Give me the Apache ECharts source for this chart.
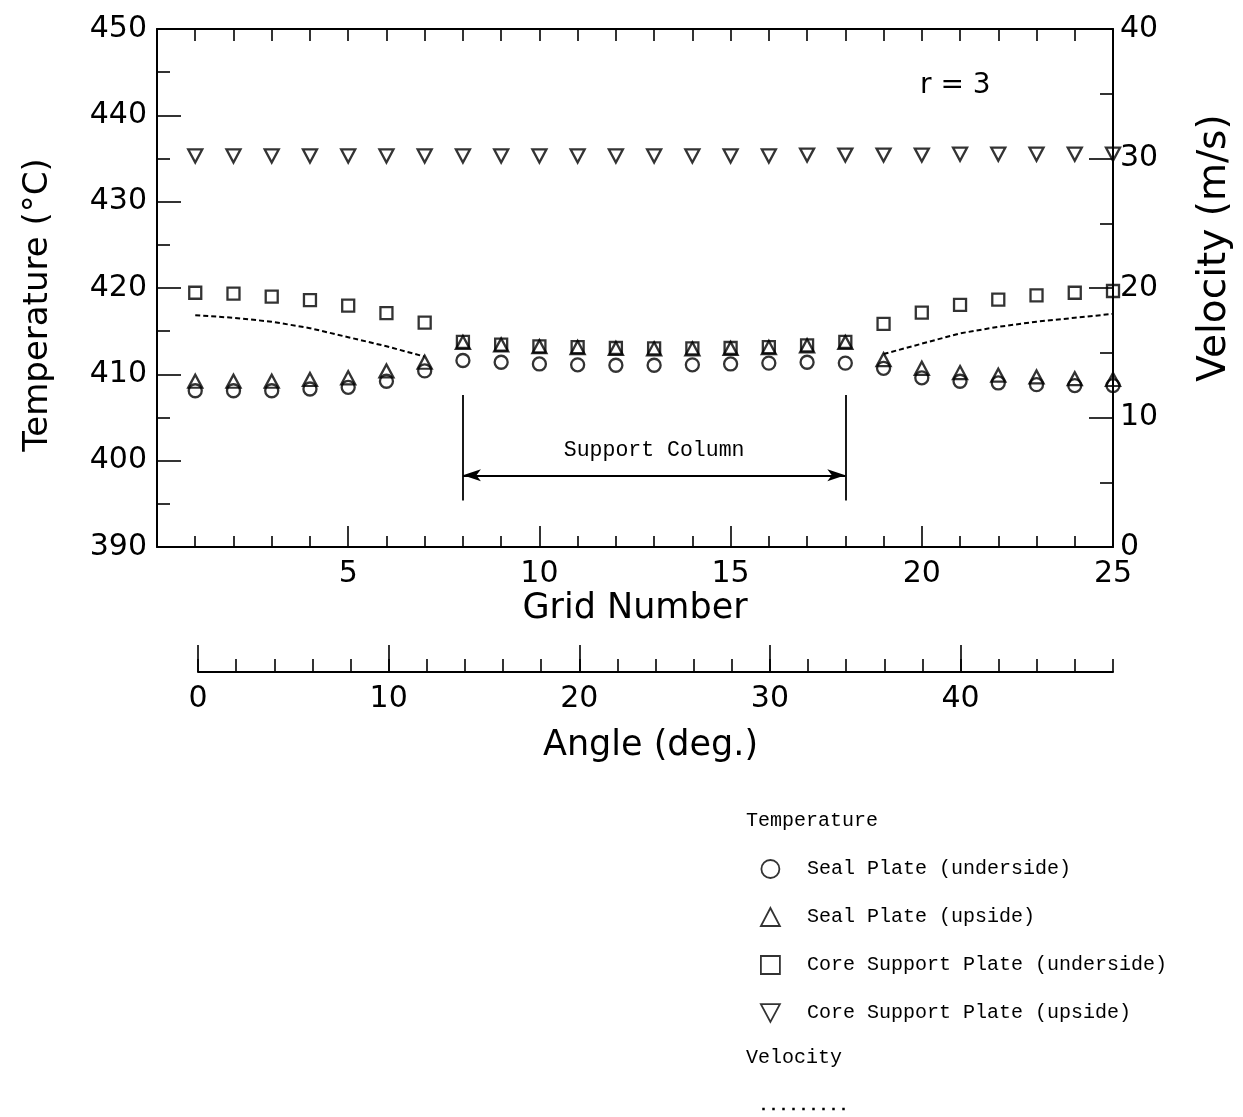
<!DOCTYPE html>
<html>
<head>
<meta charset="utf-8">
<script src="https://cdn.jsdelivr.net/npm/echarts@6/dist/echarts.min.js"></script>
<style>
  html, body { margin: 0; padding: 0; background: #fff; }
  #chart { width: 1243px; height: 1117px; }
</style>
</head>
<body>
<div id="chart"></div>
<script>
// Circumferential temperature and velocity profile at r = 3
const gridNumbers = [1, 2, 3, 4, 5, 6, 7, 8, 9, 10, 11, 12, 13, 14, 15, 16, 17, 18, 19, 20, 21, 22, 23, 24, 25];

// Temperature (°C)
const sealPlateUnderside = [408.1, 408.1, 408.1, 408.3, 408.5, 409.2, 410.4, 411.6, 411.4, 411.2, 411.1, 411.05, 411.05,
  411.1, 411.2, 411.3, 411.4, 411.3, 410.7, 409.6, 409.2, 409.0, 408.8, 408.7, 408.7];
const sealPlateUpside = [409.2, 409.2, 409.2, 409.4, 409.6, 410.4, 411.4, 413.7, 413.4, 413.2, 413.1, 413.0, 412.95,
  412.95, 413.0, 413.1, 413.3, 413.7, 411.7, 410.7, 410.2, 409.9, 409.7, 409.5, 409.4];
const coreSupportUnderside = [419.45, 419.35, 419.0, 418.6, 417.95, 417.1, 416.0, 413.75, 413.45, 413.25, 413.15, 413.05, 413.0,
  413.0, 413.05, 413.15, 413.35, 413.75, 415.85, 417.15, 418.05, 418.65, 419.15, 419.45, 419.65];
const coreSupportUpside = [435.3, 435.3, 435.3, 435.3, 435.3, 435.3, 435.3, 435.3, 435.3, 435.3, 435.3, 435.3, 435.3,
  435.3, 435.3, 435.3, 435.4, 435.4, 435.4, 435.4, 435.5, 435.5, 435.5, 435.5, 435.5];

// Velocity (m/s); no value across the support column
const velocity = [17.9, 17.7, 17.4, 16.9, 16.2, 15.5, 14.7,
  null, null, null, null, null, null, null, null, null, null, null,
  14.9, 15.7, 16.5, 17.0, 17.4, 17.7, 18.0];

// Axis ranges and ticks
const tempTicks = [390, 400, 410, 420, 430, 440, 450];
const velocityTicks = [0, 10, 20, 30, 40];
const gridTicks = [0, 5, 10, 15, 20, 25];
const angleRange = [0, 48];

// Support column extent (grid numbers) and its bracket in temperature units
const supportColumn = [8, 18];
const supportBracketTemp = [407.6, 395.4];
const supportArrowTemp = 398.3;

const seriesNames = ['Seal Plate (underside)', 'Seal Plate (upside)',
  'Core Support Plate (underside)', 'Core Support Plate (upside)'];

const pairs = (ys) => gridNumbers.map((g, i) => [g, ys[i]]);

const black = '#000';
const hollow = { color: 'rgba(0,0,0,0)', borderColor: black, borderWidth: 2.3 };
const tickFont = { fontFamily: 'DejaVu Sans', fontSize: 30, color: black };
const monoFont = 'Liberation Mono';
const downTriangle = 'path://M0,0L14,0L7,13Z';

const chart = echarts.init(document.getElementById('chart'), null, { renderer: 'canvas' });

const axisLine = { show: true, onZero: false, lineStyle: { color: black, width: 2 } };
const tickLine = { color: black, width: 1.6 };

const option = {
  backgroundColor: '#fff',
  animation: false,
  textStyle: { fontFamily: 'DejaVu Sans', color: black },
  grid: [
    { left: 157, right: 130, top: 29, height: 518, outerBoundsMode: 'none' },
    { left: 198, right: 130, top: 671, height: 1, outerBoundsMode: 'none' },
    { left: 198, width: 762.5, top: 671, height: 1, outerBoundsMode: 'none' }
  ],
  xAxis: [
    {
      type: 'value', gridIndex: 0, position: 'bottom',
      min: gridTicks[0], max: gridTicks[gridTicks.length - 1], interval: 5,
      axisLine: axisLine,
      axisTick: { inside: true, length: 21, lineStyle: tickLine },
      minorTick: { show: true, splitNumber: 5, length: 11, lineStyle: tickLine },
      axisLabel: Object.assign({ showMinLabel: false, margin: 12 }, tickFont),
      splitLine: { show: false },
      name: 'Grid Number', nameLocation: 'middle', nameGap: 44,
      nameTextStyle: { fontFamily: 'DejaVu Sans', fontSize: 35, color: black }
    },
    {
      type: 'value', gridIndex: 0, position: 'top',
      min: gridTicks[0], max: gridTicks[gridTicks.length - 1], interval: 5,
      axisLine: axisLine,
      axisTick: { inside: true, length: 12, lineStyle: tickLine },
      minorTick: { show: true, splitNumber: 5, length: 12, lineStyle: tickLine },
      axisLabel: { show: false },
      splitLine: { show: false }
    },
    {
      type: 'value', gridIndex: 1, position: 'bottom',
      min: angleRange[0], max: angleRange[1], interval: 2,
      axisLine: axisLine,
      axisTick: { inside: true, length: 13, lineStyle: tickLine },
      axisLabel: Object.assign({
        margin: 12,
        formatter: (v) => (v % 10 === 0 ? String(v) : '')
      }, tickFont),
      splitLine: { show: false },
      name: 'Angle (deg.)', nameLocation: 'middle', nameGap: 56,
      nameTextStyle: { fontFamily: 'DejaVu Sans', fontSize: 35, color: black, padding: [0, 10, 0, 0] }
    },
    {
      type: 'value', gridIndex: 2, position: 'bottom',
      min: 0, max: 40, interval: 10,
      axisLine: { show: false, onZero: false },
      axisTick: { show: true, inside: true, length: 27, lineStyle: tickLine },
      axisLabel: { show: false },
      splitLine: { show: false }
    }
  ],
  yAxis: [
    {
      type: 'value', gridIndex: 0, position: 'left',
      min: tempTicks[0], max: tempTicks[tempTicks.length - 1], interval: 10,
      axisLine: axisLine,
      axisTick: { inside: true, length: 24, lineStyle: tickLine },
      minorTick: { show: true, splitNumber: 2, length: 13, lineStyle: tickLine },
      axisLabel: Object.assign({ margin: 10 }, tickFont),
      splitLine: { show: false },
      name: 'Temperature (°C)', nameLocation: 'middle', nameGap: 102,
      nameTextStyle: { fontFamily: 'DejaVu Sans', fontSize: 34, color: black, padding: [0, 34, 0, 0] }
    },
    {
      type: 'value', gridIndex: 0, position: 'right',
      min: velocityTicks[0], max: velocityTicks[velocityTicks.length - 1], interval: 10,
      axisLine: axisLine,
      axisTick: { inside: true, length: 24, lineStyle: tickLine },
      minorTick: { show: true, splitNumber: 2, length: 13, lineStyle: tickLine },
      axisLabel: Object.assign({ margin: 7 }, tickFont),
      splitLine: { show: false },
      name: 'Velocity (m/s)', nameLocation: 'middle', nameGap: 82,
      nameTextStyle: { fontFamily: 'DejaVu Sans', fontSize: 39, color: black, padding: [0, 0, 0, 80] }
    },
    { type: 'value', gridIndex: 1, show: false, min: 0, max: 1 },
    { type: 'value', gridIndex: 2, show: false, min: 0, max: 1 }
  ],
  legend: [
    {
      data: seriesNames,
      orient: 'vertical', left: 755, top: 854,
      itemWidth: 19, itemHeight: 18, itemGap: 28,
      itemStyle: { borderWidth: 1.8 },
      textStyle: { fontFamily: monoFont, fontSize: 20, color: black, lineHeight: 20, padding: [0, 0, 0, 22] },
      selectedMode: false
    },
    {
      data: ['Velocity'],
      left: 756, top: 1099,
      itemWidth: 88, itemHeight: 10,
      formatter: () => '',
      itemStyle: { color: 'rgba(0,0,0,0)', borderColor: 'rgba(0,0,0,0)', borderWidth: 0 },
      lineStyle: { type: [2.5, 7.5], width: 2.5, color: black },
      selectedMode: false
    }
  ],
  graphic: [
    { type: 'text', left: 920, top: 72, style: { text: 'r = 3', font: '28px "DejaVu Sans"', fill: black } },
    { type: 'text', left: 746, top: 811, style: { text: 'Temperature', font: '20px "Liberation Mono"', fill: black } },
    { type: 'text', left: 746, top: 1048, style: { text: 'Velocity', font: '20px "Liberation Mono"', fill: black } }
  ],
  series: [
    {
      name: seriesNames[0], type: 'scatter', xAxisIndex: 0, yAxisIndex: 0,
      symbol: 'circle', symbolSize: 13, itemStyle: hollow,
      data: pairs(sealPlateUnderside),
      markLine: {
        silent: true, animation: false,
        symbol: ['none', 'none'],
        lineStyle: { color: black, width: 1.8, type: 'solid' },
        label: { show: false },
        data: [
          [{ coord: [supportColumn[0], supportBracketTemp[0]] }, { coord: [supportColumn[0], supportBracketTemp[1]] }],
          [{ coord: [supportColumn[1], supportBracketTemp[0]] }, { coord: [supportColumn[1], supportBracketTemp[1]] }],
          [
            { coord: [supportColumn[0], supportArrowTemp], symbol: 'arrow', symbolSize: [9, 18] },
            {
              coord: [supportColumn[1], supportArrowTemp], symbol: 'arrow', symbolSize: [9, 18],
              label: {
                show: true, position: 'insideMiddleTop', distance: 14,
                formatter: 'Support Column',
                fontFamily: monoFont, fontSize: 21.5, color: black
              }
            }
          ]
        ]
      }
    },
    {
      name: seriesNames[1], type: 'scatter', xAxisIndex: 0, yAxisIndex: 0,
      symbol: 'triangle', symbolSize: [14, 13], itemStyle: hollow,
      data: pairs(sealPlateUpside)
    },
    {
      name: seriesNames[2], type: 'scatter', xAxisIndex: 0, yAxisIndex: 0,
      symbol: 'rect', symbolSize: 12, itemStyle: hollow,
      data: pairs(coreSupportUnderside)
    },
    {
      name: seriesNames[3], type: 'scatter', xAxisIndex: 0, yAxisIndex: 0,
      symbol: downTriangle, symbolSize: [14, 13], itemStyle: hollow,
      data: pairs(coreSupportUpside)
    },
    {
      name: 'Velocity', type: 'line', xAxisIndex: 0, yAxisIndex: 1,
      symbol: 'none', connectNulls: false,
      lineStyle: { color: black, width: 2, type: [5, 3] },
      itemStyle: { color: black },
      data: pairs(velocity)
    }
  ]
};

chart.setOption(option);
</script>
</body>
</html>
